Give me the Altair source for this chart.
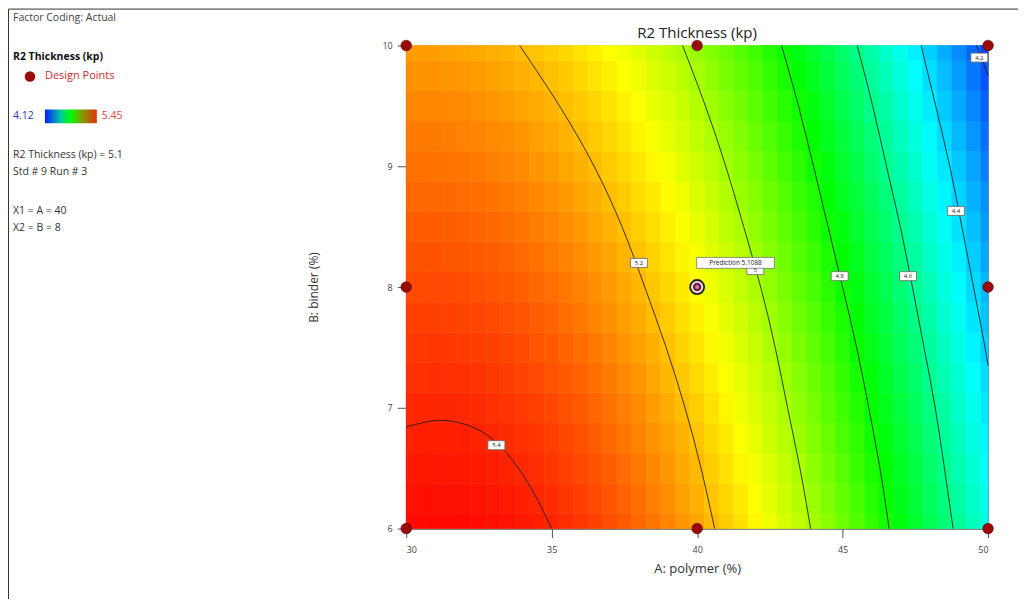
import altair as alt
import pandas as pd

FONT = "Open Sans"

# ---------------- data ----------------
A_GRID = [30.0, 30.5, 31.0, 31.5, 32.0, 32.5, 33.0, 33.5, 34.0, 34.5,
          35.0, 35.5, 36.0, 36.5, 37.0, 37.5, 38.0, 38.5, 39.0, 39.5,
          40.0, 40.5, 41.0, 41.5, 42.0, 42.5, 43.0, 43.5, 44.0, 44.5,
          45.0, 45.5, 46.0, 46.5, 47.0, 47.5, 48.0, 48.5, 49.0, 49.5, 50.0]
B_GRID = [6.0, 6.25, 6.5, 6.75, 7.0, 7.25, 7.5, 7.75, 8.0,
          8.25, 8.5, 8.75, 9.0, 9.25, 9.5, 9.75, 10.0]

R2_B6_00 = [5.436, 5.438, 5.440, 5.440, 5.438, 5.435, 5.431, 5.426, 5.419, 5.411,
            5.402, 5.391, 5.379, 5.365, 5.350, 5.334, 5.316, 5.297, 5.277, 5.256,
            5.233, 5.208, 5.183, 5.156, 5.127, 5.097, 5.066, 5.034, 5.000, 4.965,
            4.929, 4.891, 4.852, 4.811, 4.769, 4.726, 4.681, 4.635, 4.588, 4.540, 4.490]
R2_B6_25 = [5.427, 5.429, 5.431, 5.430, 5.429, 5.426, 5.421, 5.416, 5.409, 5.401,
            5.391, 5.380, 5.368, 5.354, 5.339, 5.322, 5.304, 5.285, 5.265, 5.243,
            5.220, 5.195, 5.170, 5.143, 5.114, 5.084, 5.053, 5.020, 4.986, 4.951,
            4.914, 4.876, 4.837, 4.796, 4.754, 4.711, 4.666, 4.620, 4.572, 4.524, 4.474]
R2_B6_50 = [5.418, 5.420, 5.421, 5.420, 5.419, 5.416, 5.411, 5.405, 5.398, 5.390,
            5.380, 5.369, 5.356, 5.342, 5.327, 5.310, 5.292, 5.273, 5.253, 5.230,
            5.207, 5.182, 5.156, 5.129, 5.100, 5.070, 5.039, 5.006, 4.972, 4.936,
            4.899, 4.861, 4.822, 4.781, 4.739, 4.695, 4.650, 4.604, 4.556, 4.507, 4.457]
R2_B6_75 = [5.408, 5.410, 5.411, 5.410, 5.409, 5.405, 5.400, 5.394, 5.387, 5.379,
            5.369, 5.357, 5.344, 5.330, 5.315, 5.298, 5.280, 5.260, 5.240, 5.217,
            5.194, 5.169, 5.143, 5.115, 5.086, 5.056, 5.024, 4.991, 4.957, 4.921,
            4.884, 4.846, 4.806, 4.765, 4.723, 4.679, 4.634, 4.587, 4.539, 4.490, 4.440]
R2_B7_00 = [5.398, 5.400, 5.401, 5.400, 5.398, 5.394, 5.389, 5.383, 5.376, 5.367,
            5.357, 5.345, 5.332, 5.318, 5.302, 5.285, 5.267, 5.247, 5.226, 5.204,
            5.180, 5.155, 5.129, 5.101, 5.072, 5.041, 5.009, 4.976, 4.942, 4.906,
            4.869, 4.830, 4.790, 4.749, 4.706, 4.662, 4.617, 4.570, 4.522, 4.473, 4.422]
R2_B7_25 = [5.388, 5.389, 5.390, 5.389, 5.387, 5.383, 5.378, 5.371, 5.364, 5.355,
            5.345, 5.333, 5.319, 5.305, 5.289, 5.272, 5.254, 5.234, 5.212, 5.190,
            5.166, 5.141, 5.114, 5.086, 5.057, 5.026, 4.994, 4.961, 4.926, 4.890,
            4.853, 4.814, 4.774, 4.732, 4.689, 4.645, 4.600, 4.553, 4.505, 4.455, 4.404]
R2_B7_50 = [5.377, 5.378, 5.379, 5.377, 5.375, 5.371, 5.366, 5.359, 5.352, 5.342,
            5.332, 5.320, 5.306, 5.292, 5.276, 5.258, 5.240, 5.220, 5.198, 5.175,
            5.151, 5.126, 5.099, 5.071, 5.042, 5.011, 4.978, 4.945, 4.910, 4.874,
            4.836, 4.797, 4.757, 4.715, 4.672, 4.628, 4.582, 4.535, 4.487, 4.437, 4.386]
R2_B7_75 = [5.366, 5.367, 5.367, 5.365, 5.363, 5.359, 5.354, 5.347, 5.339, 5.329,
            5.319, 5.307, 5.293, 5.278, 5.262, 5.244, 5.226, 5.205, 5.184, 5.160,
            5.136, 5.111, 5.084, 5.055, 5.026, 4.995, 4.962, 4.929, 4.894, 4.857,
            4.819, 4.780, 4.740, 4.698, 4.655, 4.610, 4.564, 4.517, 4.469, 4.418, 4.367]
R2_B8_00 = [5.354, 5.355, 5.355, 5.353, 5.351, 5.346, 5.341, 5.334, 5.326, 5.316,
            5.305, 5.293, 5.279, 5.264, 5.248, 5.230, 5.211, 5.190, 5.169, 5.145,
            5.121, 5.095, 5.068, 5.039, 5.010, 4.978, 4.946, 4.912, 4.877, 4.840,
            4.802, 4.763, 4.722, 4.680, 4.637, 4.592, 4.546, 4.498, 4.450, 4.399, 4.348]
R2_B8_25 = [5.342, 5.343, 5.343, 5.341, 5.338, 5.333, 5.328, 5.321, 5.312, 5.302,
            5.291, 5.279, 5.265, 5.249, 5.233, 5.215, 5.196, 5.175, 5.153, 5.130,
            5.105, 5.079, 5.052, 5.023, 4.993, 4.961, 4.929, 4.895, 4.860, 4.822,
            4.784, 4.745, 4.704, 4.662, 4.618, 4.573, 4.527, 4.479, 4.431, 4.380, 4.328]
R2_B8_50 = [5.329, 5.330, 5.330, 5.328, 5.325, 5.320, 5.314, 5.307, 5.298, 5.288,
            5.277, 5.264, 5.250, 5.234, 5.218, 5.200, 5.180, 5.159, 5.137, 5.114,
            5.089, 5.063, 5.035, 5.006, 4.976, 4.944, 4.911, 4.877, 4.842, 4.804,
            4.766, 4.726, 4.685, 4.643, 4.599, 4.554, 4.508, 4.460, 4.411, 4.360, 4.308]
R2_B8_75 = [5.316, 5.317, 5.317, 5.314, 5.311, 5.306, 5.300, 5.293, 5.284, 5.273,
            5.262, 5.249, 5.235, 5.219, 5.202, 5.184, 5.164, 5.143, 5.121, 5.097,
            5.072, 5.046, 5.018, 4.989, 4.959, 4.927, 4.893, 4.859, 4.824, 4.786,
            4.748, 4.708, 4.666, 4.624, 4.580, 4.535, 4.488, 4.440, 4.391, 4.340, 4.288]
R2_B9_00 = [5.303, 5.304, 5.303, 5.300, 5.297, 5.292, 5.285, 5.278, 5.269, 5.258,
            5.247, 5.234, 5.219, 5.203, 5.186, 5.168, 5.148, 5.127, 5.104, 5.080,
            5.055, 5.029, 5.001, 4.971, 4.941, 4.909, 4.875, 4.841, 4.805, 4.767,
            4.729, 4.689, 4.647, 4.604, 4.560, 4.515, 4.468, 4.420, 4.370, 4.319, 4.267]
R2_B9_25 = [5.289, 5.290, 5.289, 5.286, 5.282, 5.277, 5.270, 5.263, 5.254, 5.243,
            5.231, 5.218, 5.203, 5.187, 5.170, 5.151, 5.131, 5.110, 5.087, 5.063,
            5.038, 5.011, 4.983, 4.953, 4.923, 4.890, 4.857, 4.822, 4.786, 4.748,
            4.709, 4.669, 4.627, 4.584, 4.540, 4.495, 4.447, 4.399, 4.349, 4.298, 4.246]
R2_B9_50 = [5.275, 5.275, 5.274, 5.271, 5.267, 5.262, 5.255, 5.247, 5.238, 5.227,
            5.215, 5.201, 5.187, 5.170, 5.153, 5.134, 5.114, 5.092, 5.070, 5.045,
            5.020, 4.993, 4.964, 4.935, 4.904, 4.871, 4.838, 4.803, 4.766, 4.728,
            4.689, 4.649, 4.607, 4.564, 4.520, 4.474, 4.426, 4.378, 4.328, 4.277, 4.224]
R2_B9_75 = [5.261, 5.260, 5.259, 5.256, 5.252, 5.246, 5.239, 5.231, 5.222, 5.211,
            5.199, 5.185, 5.170, 5.153, 5.136, 5.117, 5.096, 5.074, 5.052, 5.027,
            5.002, 4.974, 4.946, 4.916, 4.885, 4.852, 4.818, 4.783, 4.746, 4.708,
            4.669, 4.629, 4.587, 4.543, 4.499, 4.453, 4.405, 4.356, 4.306, 4.255, 4.202]
R2_B10_00 = [5.246, 5.245, 5.244, 5.240, 5.236, 5.230, 5.223, 5.215, 5.205, 5.194,
             5.182, 5.168, 5.153, 5.136, 5.118, 5.099, 5.078, 5.056, 5.033, 5.008,
             4.983, 4.955, 4.927, 4.896, 4.865, 4.832, 4.798, 4.763, 4.726, 4.688,
             4.649, 4.608, 4.566, 4.522, 4.477, 4.431, 4.383, 4.334, 4.284, 4.232, 4.180]
R2_ROWS = [R2_B6_00, R2_B6_25, R2_B6_50, R2_B6_75, R2_B7_00, R2_B7_25, R2_B7_50, R2_B7_75,
           R2_B8_00, R2_B8_25, R2_B8_50, R2_B8_75, R2_B9_00, R2_B9_25, R2_B9_50, R2_B9_75,
           R2_B10_00]

# contour lines (A, B positions)
C54_A = [30.0, 31.0, 32.0, 33.0, 33.9, 34.5, 35.0]
C54_B = [6.84, 6.91, 6.88, 6.76, 6.5, 6.25, 6.0]
C_FULL_B = [6.0, 6.5, 7.0, 7.5, 8.0, 8.5, 9.0, 9.5, 10.0]
C52_A = [40.6, 40.15, 39.6, 38.95, 38.2, 37.45, 36.5, 35.3, 33.9]
C50_A = [43.9, 43.55, 43.1, 42.7, 42.2, 41.6, 41.0, 40.3, 39.5]
C48_A = [46.6, 46.3, 45.9, 45.5, 45.0, 44.5, 44.0, 43.5, 42.9]
C46_A = [48.8, 48.5, 48.2, 47.8, 47.4, 47.0, 46.5, 46.05, 45.5]
C44_A = [50.0, 49.9, 49.5, 49.1, 48.7, 48.2, 47.7]
C44_B = [7.35, 7.5, 8.0, 8.5, 9.0, 9.5, 10.0]
C42_A = [50.0, 49.8, 49.6]
C42_B = [9.75, 9.88, 10.0]

LABEL_TEXT = ["5.4", "5.2", "5", "4.8", "4.6", "4.4", "4.2"]
LABEL_A = [33.1, 38.0, 42.0, 44.9, 47.25, 48.9, 49.7]
LABEL_B = [6.69, 8.2, 8.14, 8.09, 8.09, 8.63, 9.9]

DESIGN_A = [30, 40, 50, 30, 50, 30, 40, 50]
DESIGN_B = [6, 6, 6, 8, 8, 10, 10, 10]
SELECTED_A = [40]
SELECTED_B = [8]
PREDICTION_TEXT = "Prediction 5.1088"
PRED_A = [41.32]
PRED_B = [8.2]

COLOR_DOMAIN = [4.12, 4.4525, 4.785, 5.1175, 5.45]
COLOR_RANGE = ["#0a1cff", "#00ffff", "#00ff00", "#ffff00", "#ff0000"]

# ---------------- tables ----------------
heat_rows = []
for b, row in zip(B_GRID, R2_ROWS):
    for a, v in zip(A_GRID, row):
        heat_rows.append({"A": a, "B": b, "R2": v})
heat_df = pd.DataFrame(heat_rows)

contour_rows = []
for lvl, xs, ys in [("5.4", C54_A, C54_B), ("5.2", C52_A, C_FULL_B), ("5", C50_A, C_FULL_B),
                    ("4.8", C48_A, C_FULL_B), ("4.6", C46_A, C_FULL_B), ("4.4", C44_A, C44_B),
                    ("4.2", C42_A, C42_B)]:
    for i, (a, b) in enumerate(zip(xs, ys)):
        contour_rows.append({"level": lvl, "order": i, "A": a, "B": b})
contour_df = pd.DataFrame(contour_rows)

labels_df = pd.DataFrame({"A": LABEL_A, "B": LABEL_B, "t": LABEL_TEXT})
design_df = pd.DataFrame({"A": DESIGN_A, "B": DESIGN_B})
sel_df = pd.DataFrame({"A": SELECTED_A, "B": SELECTED_B})
pred_df = pd.DataFrame({"A": PRED_A, "B": PRED_B, "t": [PREDICTION_TEXT]})

# ---------------- scales / axes ----------------
X_SCALE = alt.Scale(domain=[30, 50], nice=False, zero=False)
Y_SCALE = alt.Scale(domain=[6, 10], nice=False, zero=False)
X_AXIS = alt.Axis(values=[30, 35, 40, 45, 50], title="A: polymer (%)", format="d",
                  tickSize=9, labelPadding=8, titlePadding=8, grid=False,
                  labelFontSize=9, titleFontSize=13, labelColor="#444", titleColor="#333",
                  titleFontWeight="normal", domainColor="#555", tickColor="#555",
                  labelFont=FONT, titleFont=FONT)
Y_AXIS = alt.Axis(values=[6, 7, 8, 9, 10], title="B: binder (%)", format="d",
                  tickSize=9, labelPadding=5, titlePadding=62, grid=False,
                  labelFontSize=9, titleFontSize=12, labelColor="#444", titleColor="#333",
                  titleFontWeight="normal", domainColor="#555", tickColor="#555",
                  labelFont=FONT, titleFont=FONT)
COLOR_SCALE = alt.Scale(domain=COLOR_DOMAIN, range=COLOR_RANGE, interpolate="rgb")


def X(field):
    return alt.X(field, type="quantitative", scale=X_SCALE, axis=X_AXIS)


def Y(field):
    return alt.Y(field, type="quantitative", scale=Y_SCALE, axis=Y_AXIS)


heat = alt.Chart(heat_df).transform_calculate(
    a0="max(30, datum.A - 0.25)", a1="min(50, datum.A + 0.25)",
    b0="max(6, datum.B - 0.125)", b1="min(10, datum.B + 0.125)"
).mark_rect(strokeWidth=0.6).encode(
    x=X("a0"), x2="a1", y=Y("b0"), y2="b1",
    color=alt.Color("R2:Q", scale=COLOR_SCALE, legend=None),
    stroke=alt.Stroke("R2:Q", scale=COLOR_SCALE, legend=None),
)

lines = alt.Chart(contour_df).mark_line(
    interpolate="basis", color="#1a1a1a", strokeWidth=1, opacity=0.85
).encode(x=X("A"), y=Y("B"), detail="level:N", order="order:Q")

BOX_SHAPE = "M-1,-0.53L1,-0.53L1,0.53L-1,0.53Z"
label_boxes = alt.Chart(labels_df).mark_point(
    shape=BOX_SHAPE, size=289, filled=True, fill="white", stroke="#666", strokeWidth=0.8, opacity=1
).encode(x=X("A"), y=Y("B"))
label_text = alt.Chart(labels_df).mark_text(
    fontSize=6, font=FONT, color="#222", baseline="middle"
).encode(x=X("A"), y=Y("B"), text="t:N")

design = alt.Chart(design_df).mark_circle(
    size=113, color="#990a0a", opacity=1, stroke="#5a0000", strokeWidth=0.6
).encode(x=X("A"), y=Y("B"))

sel_outer = alt.Chart(sel_df).mark_circle(size=254, color="#222222", opacity=1).encode(x=X("A"), y=Y("B"))
sel_ring = alt.Chart(sel_df).mark_circle(size=150, color="#f2e6e6", opacity=1).encode(x=X("A"), y=Y("B"))
sel_inner = alt.Chart(sel_df).mark_circle(size=72, color="#7a1a3a", opacity=1).encode(x=X("A"), y=Y("B"))
sel_core = alt.Chart(sel_df).mark_circle(size=16, color="#b58ab5", opacity=1).encode(x=X("A"), y=Y("B"))

pred_box = alt.Chart(pred_df).mark_point(
    shape="M-1,-0.14L1,-0.14L1,0.14L-1,0.14Z", size=6084, filled=True, fill="white",
    stroke="#777", strokeWidth=0.8, opacity=1
).encode(x=X("A"), y=Y("B"))
pred_text = alt.Chart(pred_df).mark_text(
    fontSize=6.5, font=FONT, color="#222", baseline="middle"
).encode(x=X("A"), y=Y("B"), text="t:N")


def txt(text, x, y, size=10.5, color="#333", weight="normal", align="left"):
    return alt.Chart(pd.DataFrame({"t": [text]})).mark_text(
        align=align, baseline="middle", fontSize=size, font=FONT, color=color, fontWeight=weight
    ).encode(text="t:N", x=alt.value(x), y=alt.value(y))


legend_dot = alt.Chart(pd.DataFrame({"k": [0]})).mark_circle(
    size=110, color="#990a0a", opacity=1
).encode(x=alt.value(-377), y=alt.value(31))

colorbar = alt.Chart(pd.DataFrame({"k": [0]})).mark_rect(
    color=alt.LinearGradient(
        gradient="linear", x1=0, x2=1, y1=0, y2=0,
        stops=[alt.GradientStop(color="#0a1cff", offset=0),
               alt.GradientStop(color="#00c8a0", offset=0.3),
               alt.GradientStop(color="#00ff00", offset=0.5),
               alt.GradientStop(color="#80a000", offset=0.7),
               alt.GradientStop(color="#e03010", offset=1)])
).encode(x=alt.value(-362), x2=alt.value(-310), y=alt.value(64), y2=alt.value(78))

frame_left = alt.Chart(pd.DataFrame({"k": [0]})).mark_rule(color="#333", strokeWidth=1).encode(
    x=alt.value(-398.5), y=alt.value(-36.5), y2=alt.value(570))
frame_top = alt.Chart(pd.DataFrame({"k": [0]})).mark_rule(color="#333", strokeWidth=1).encode(
    x=alt.value(-398.5), x2=alt.value(620), y=alt.value(-36.5))

legend_layers = [
    txt("Factor Coding: Actual", -394, -28, color="#444"),
    txt("R2 Thickness (kp)", -394, 12, color="#111", weight="bold"),
    legend_dot,
    txt("Design Points", -362, 31, size=11, color="#cc2a2a"),
    txt("4.12", -394, 71, color="#3333cc"),
    colorbar,
    txt("5.45", -305, 71, color="#e04040"),
    txt("R2 Thickness (kp) = 5.1", -394, 110),
    txt("Std # 9 Run # 3", -394, 127),
    txt("X1 = A = 40", -394, 166),
    txt("X2 = B = 8", -394, 183),
    txt("R2 Thickness (kp)", 291.5, -13, size=15, color="#222", align="center"),
    frame_left, frame_top,
]

chart = alt.layer(
    heat, lines, label_boxes, label_text, design,
    sel_outer, sel_ring, sel_inner, sel_core, pred_box, pred_text,
    *legend_layers
).properties(
    width=583, height=484,
    padding={"left": 399, "top": 37, "right": 30, "bottom": 70},
    autosize=alt.AutoSizeParams(type="none"),
).configure_view(stroke="#888", strokeWidth=1)

chart.save("out.html", embed_options={"renderer": "svg", "actions": False})
